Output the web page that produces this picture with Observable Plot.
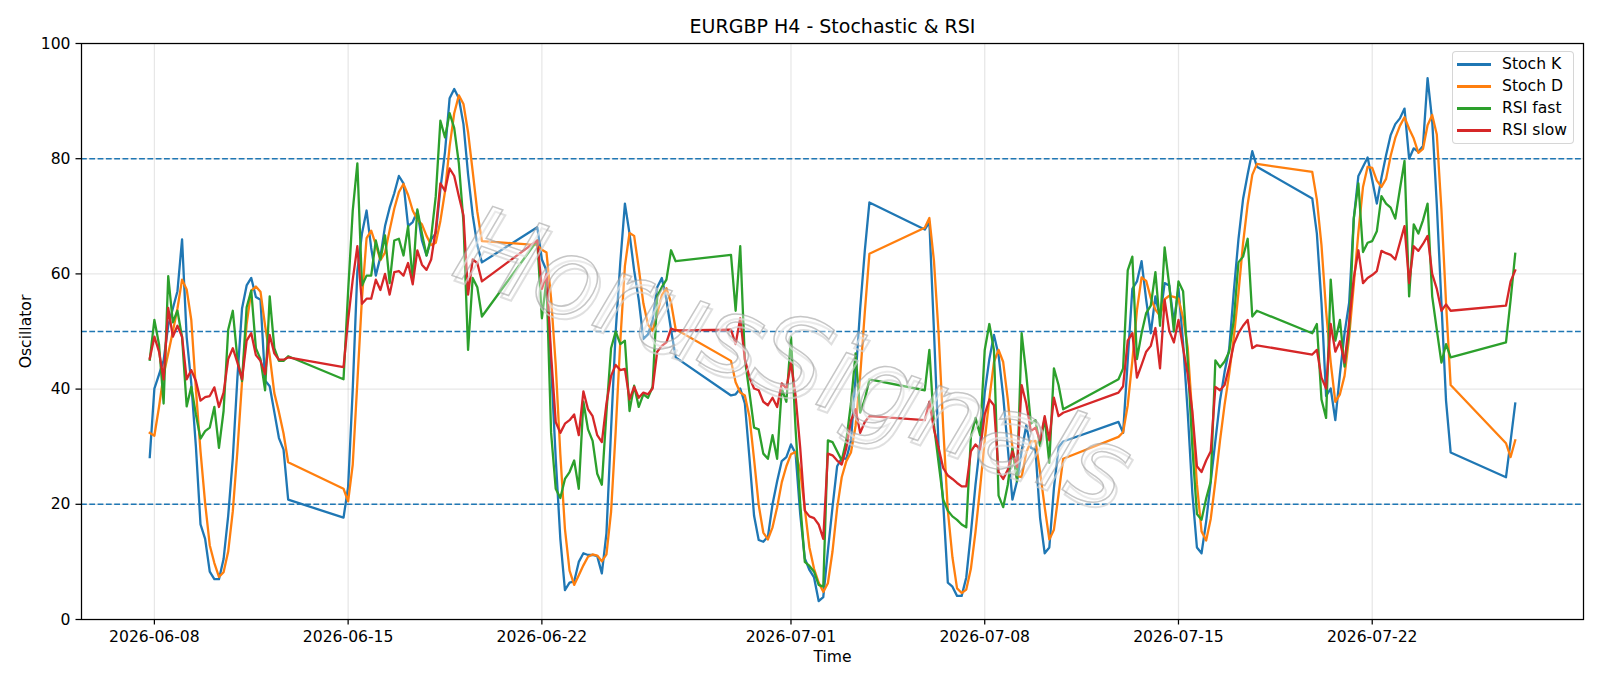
<!DOCTYPE html>
<html>
<head>
<meta charset="utf-8">
<script src="https://cdn.jsdelivr.net/npm/d3@7"></script>
<script src="https://cdn.jsdelivr.net/npm/@observablehq/plot@0.6"></script>
<style>
html,body{margin:0;padding:0;background:#fff;}
#chart{position:relative;width:1600px;height:686px;overflow:hidden;font-family:"DejaVu Sans",sans-serif;}
#legend{position:absolute;left:1452px;top:51px;width:122px;height:93px;border:1px solid rgba(204,204,204,0.8);border-radius:4px;background:rgba(255,255,255,0.8);box-sizing:border-box;}
.lrow{position:absolute;left:0;width:120px;height:22px;}
.lline{position:absolute;left:4px;width:34px;height:2.3px;top:10px;}
.ltext{position:absolute;left:49px;top:0;line-height:22px;font-size:15.6px;color:#000;white-space:nowrap;font-family:"DejaVu Sans",sans-serif;}
</style>
</head>
<body>
<div id="chart"></div>
<script>
// ---------- data ----------
const titleText = "EURGBP H4 - Stochastic & RSI";
const seriesNames = ["Stoch K", "Stoch D", "RSI fast", "RSI slow"];
const seriesColors = ["#1f77b4", "#ff7f0e", "#2ca02c", "#d62728"];
// first H4 bar of each trading week (Sunday 20:00 UTC) and number of bars in it
const weekStarts = ["2026-06-07T20:00:00Z","2026-06-14T20:00:00Z","2026-06-21T20:00:00Z","2026-06-28T20:00:00Z","2026-07-05T20:00:00Z","2026-07-12T20:00:00Z","2026-07-19T20:00:00Z","2026-07-26T20:00:00Z"];
const barsPerWeek = [31,31,31,31,31,31,31,3];
const xTickDates = ["2026-06-08","2026-06-15","2026-06-22","2026-07-01","2026-07-08","2026-07-15","2026-07-22"];
const yTicks = [0,20,40,60,80,100];
const levels = [20,50,80];

const stochK = [
28.2,40.1,42.5,45,51,54,57,66,49,41,30,16.5,14,8.3,7,7,10.5,18,28,42,54,58,59.3,56,55.5,41.5,40.5,36,31.5,29.5,20.8,
17.7,23,40,60.5,67,71,64.5,59.7,63,68.3,71.5,74,77,75.7,68.3,69,70.9,65.8,63.2,66,67,74.7,81.2,90.5,92.1,90.5,86,77.3,70.2,65,62,
68.1,62.5,60.6,44,28,14,5.1,6.4,6.6,10,11.5,11.2,11.2,11,8,15,33,50,62,72.2,67,60.6,55.5,48.7,49.5,52,57.7,59.3,55.5,50.3,45.5,
38.9,39.1,40.1,37.5,28,18,13.8,13.5,14.4,20,24,27.5,28.2,30.4,28.8,18.3,10.6,8.6,7.3,3.2,3.9,11.9,19.5,26.6,28,27.9,31,42,54,64,72.4,
67.7,69,50,30,20.2,6.4,5.7,4.1,4.1,7.3,15,23.4,30.4,39.4,45.2,49.4,45.9,38.8,29.8,20.8,24,29.2,33.7,29.8,29.5,17.6,11.5,12.5,22.8,29.9,30.9,
34.3,32.4,45,57.4,58.7,62.2,55.5,49.7,56.1,52.3,58.4,58,51.6,57.5,48,36,22,12.5,11.5,17,24,31,38,43,47,57,66,73,77.3,81.3,78.6,
73.1,67,55,38.8,40.1,34.6,42.6,49.7,55,69.6,77,78.6,80.2,76.3,72.2,76.7,80.6,84.1,86,87,88.7,80,81.8,81.2,82.2,94,86.6,72,55,38,29,
24.7,31,37.5
];
const stochD = [
32.4,31.9,36.9,42.5,46.2,50,54,59,57.3,52,40,29.2,20.2,12.9,9.8,7.4,8.2,11.8,18.8,29.3,41.3,51.3,57.1,57.8,56.9,51,45.8,39.3,36,32.3,27.3,
22.7,20.5,26.9,41.2,55.8,66.2,67.5,65.1,62.4,63.7,67.6,71.3,74.2,75.6,73.7,71,69.4,68.6,66.6,65,65.4,69.2,74.3,82.1,87.9,91,89.5,84.6,77.8,70.8,65.7,
65,64.2,63.7,55.7,44.2,28.7,15.7,8.5,6,7.7,9.4,10.9,11.3,11.1,10.1,11.3,18.7,32.7,48.3,61.4,67.1,66.6,61,54.9,51.2,50.1,53.1,56.3,57.5,55,50.4,
44.9,41.2,39.4,38.9,35.2,27.8,19.9,15.1,13.9,16,19.5,23.8,26.6,28.7,29.1,25.8,19.2,12.5,8.8,6.4,4.8,6.3,11.8,19.3,24.7,27.5,29,33.6,42.3,53.3,63.5,
68,69.7,62.2,49.7,33.4,18.9,10.8,5.4,4.6,5.2,8.8,15.2,22.9,31.1,38.3,44.7,46.8,44.7,38.2,29.8,24.9,24.7,29,30.9,31,25.6,19.5,13.9,15.6,21.7,27.9,
31.7,32.5,37.2,44.9,53.7,59.4,58.8,55.8,53.8,52.7,55.6,56.2,56,55.7,52.4,47.2,35.3,23.5,15.3,13.7,17.5,24,31,37.3,42.7,49,56.7,65.3,72.1,77.2,79.1,
77.7,72.9,65,53.6,44.6,37.8,39.1,42.3,49.1,58.1,67.2,75.1,78.6,78.4,76.2,75.1,76.5,80.5,83.6,85.7,87.2,85.2,83.5,81,81.7,85.8,87.6,84.2,71.2,55,40.7,
30.6,28.2,31.1
];
const rsiFast = [
45.1,52,47.8,37.5,59.6,51.6,53.6,49,37,40.4,35.6,31.4,32.7,33.3,36.9,29.8,36.2,50.3,53.6,45.2,41.4,54.2,57.1,47.1,45.2,39.8,56.1,47.1,44.9,44.9,45.7,
41.7,57,71,79.2,58,59.7,59.7,65.8,62.5,66.7,58.4,65.8,66.1,63.2,68.3,58.7,71.2,67,63.2,66.4,73.5,86.6,83.7,87.9,85.3,79.2,69,46.8,59.3,57.7,52.6,
65.8,52.3,59,32.4,22.7,21.1,24.4,25.6,27.6,22.7,37.8,33,31,25.3,23.4,36,47.1,50,47.8,48.4,36.2,40.6,36.9,39.1,38.5,40.4,56.1,57.7,59,64.1,62.2,
63.3,53.6,64.8,45.2,39.4,33.3,33,28.8,27.9,32,27.9,40.1,37.8,49.1,33,20.2,10,9.3,8.3,6,5.7,31.1,30.8,29.2,27.6,31.1,37.5,46.2,35.9,38.2,41.7,
39.8,46.8,33.7,27.2,20.8,18.9,17.9,17.3,16.5,16,31.7,35,32,46.8,51.3,46.8,21.5,19.5,23.4,29.8,24,49.7,42.6,34,34.6,30.1,35,27.2,43.6,40.7,36.5,
41.7,43.6,60.6,63,45.2,49.7,53.2,54.5,60.3,51,64.6,58,50,58.7,57,45,30,18.3,17.3,21,24,45,43.8,44.8,46.5,52,62,63,66.1,52.6,53.6,
49.7,51.3,38.2,35,59,48.4,52,43.9,50.5,69.6,75.7,63.8,65.4,65.7,67.4,73.5,72.2,71.5,69.6,74.7,79.6,56.1,68.6,67,69.3,72.2,56.1,50.3,44.6,47.8,45.5,
48.1,55.5,63.5
];
const rsiSlow = [
45.3,49.1,46.5,41.7,54.1,49.1,51,49.1,41.7,43.3,41.4,38,38.6,38.8,40.3,36.9,39.4,45.2,47.1,44.6,41.7,48.4,49.7,45.9,44.9,42.6,49.4,46.2,45.1,45.1,45.5,
43.8,52,59,64.8,54.8,55.7,55.7,59,57.2,60,56.4,60.3,60.5,59.7,61.9,58.2,64.1,61.6,60.7,62.5,67.7,75.7,74.4,78.3,77,73.5,70.2,56.4,62.5,61.9,58.7,
65.8,57.4,60,45.9,34.3,32.4,34,34.6,35.6,32,39.6,36.5,35.3,32,30.8,37.5,42.3,44.2,43.3,43.5,38.2,40.4,38.5,39.4,39.1,40.1,46.5,47.5,48.1,50.5,50.2,
50.3,47.8,52.3,45.2,42,40.1,39.8,37.8,37.2,38.5,36.9,41,40.1,44.6,38.8,29.8,18.9,17.9,17.6,16.5,14,28.8,28.5,27.6,26.9,29.8,34.5,36.5,32.4,34.3,35.3,
34.6,37.8,33,29.8,26.3,25,24.4,23.7,23.1,23.1,29.2,30.4,29.5,35.6,38.2,37.2,25.6,24.4,26,29.2,26.5,40.7,37.5,32.7,33.3,31.1,35.3,31.1,38.5,35.3,35.9,
39.4,40.5,48.4,49.7,42,44.2,46.5,47.5,50.6,43.6,55.5,50.1,48.1,52,47.1,42.6,36.2,26.6,25.6,27.6,29.2,40.4,39.8,40.7,43.9,47.8,49.7,51,52,47.1,47.6,
46,46.8,42,40.1,51.3,46.5,48.3,44.6,51.6,59.3,64.1,58.4,59.3,59.8,60.5,64,63.6,63.3,62.5,65.4,68.3,58.4,64.8,64,65.2,66.6,60,57.4,53.6,54.7,53.6,
54.5,58.7,60.6
];

// ---------- build table ----------
const H4 = 4 * 3600 * 1000;
const times = [];
weekStarts.forEach((s, w) => {
  const t0 = new Date(s).getTime();
  for (let i = 0; i < barsPerWeek[w]; i++) times.push(new Date(t0 + i * H4));
});
const seriesValues = [stochK, stochD, rsiFast, rsiSlow];
const tables = seriesValues.map((vals, k) => times.map((t, i) => ({t, v: vals[i], s: seriesNames[k]})));

// matplotlib-like 5% x margins
const tMin = times[0].getTime(), tMax = times[times.length - 1].getTime();
const pad = (tMax - tMin) * 0.05;
const xDomain = [new Date(tMin - pad), new Date(tMax + pad)];
const xTicks = xTickDates.map(d => new Date(d + "T00:00:00Z"));

const gridStyle = {stroke: "#b0b0b0", strokeOpacity: 0.3, strokeWidth: 1.25};

const chart = Plot.plot({
  width: 1600,
  height: 686,
  marginLeft: 81,
  marginRight: 17,
  marginTop: 43,
  marginBottom: 67,
  style: {fontFamily: "DejaVu Sans, sans-serif", fontSize: "15.6px", color: "#000", background: "#fff", overflow: "visible"},
  x: {type: "utc", domain: xDomain},
  y: {domain: [0, 100]},
  marks: [
    Plot.gridX(xTicks, gridStyle),
    Plot.gridY(yTicks, gridStyle),
    Plot.ruleY(levels, {stroke: "#1f77b4", strokeWidth: 1.56, strokeDasharray: "5.8,2.5"}),
    ...tables.map((tab, k) => Plot.line(tab, {x: "t", y: "v", stroke: seriesColors[k], strokeWidth: 2.3, strokeLinejoin: "round", strokeLinecap: "square"})),
    Plot.frame({stroke: "#000", strokeWidth: 1.25}),
    Plot.axisX(xTicks, {anchor: "bottom", tickFormat: d3.utcFormat("%Y-%m-%d"), tickSize: 5.5, tickPadding: 5.5, label: null, strokeWidth: 1.25}),
    Plot.axisY(yTicks, {anchor: "left", tickSize: 5.5, tickPadding: 5.5, label: null, strokeWidth: 1.25}),
    Plot.text([titleText], {frameAnchor: "top", dy: -16.5, fontSize: 19, lineAnchor: "middle", textAnchor: "middle"}),
    Plot.text(["Time"], {frameAnchor: "bottom", dy: 37.5, lineAnchor: "middle", textAnchor: "middle"}),
    Plot.text(["Oscillator"], {frameAnchor: "left", dx: -55.5, rotate: -90, lineAnchor: "middle", textAnchor: "middle"})
  ]
});

const host = document.getElementById("chart");
host.appendChild(chart);

// watermark (decorative text overlay)
const wm = d3.select(chart).append("g")
  .attr("transform", "translate(792,362) rotate(19.5)")
  .attr("pointer-events", "none");
const wmStyle = sel => sel
  .attr("text-anchor", "middle")
  .style("font-family", "DejaVu Sans, sans-serif")
  .style("font-style", "italic")
  .style("font-size", "108px")
  .style("letter-spacing", "0px")
  .text("HorusSignals");
wm.append("text").attr("x", 4).attr("y", 36)
  .attr("fill", "none").attr("stroke", "#d2d2d2").attr("stroke-opacity", 0.7).attr("stroke-width", 2)
  .call(wmStyle);
wm.append("text").attr("x", 0).attr("y", 32)
  .attr("fill", "#ffffff").attr("fill-opacity", 0.35)
  .attr("stroke", "#a0a0a0").attr("stroke-opacity", 0.6).attr("stroke-width", 1.5)
  .call(wmStyle);

// legend
const legend = document.createElement("div");
legend.id = "legend";
seriesNames.forEach((name, k) => {
  const row = document.createElement("div");
  row.className = "lrow";
  row.style.top = (1.3 + 22 * k) + "px";
  const ln = document.createElement("div");
  ln.className = "lline";
  ln.style.background = seriesColors[k];
  const tx = document.createElement("div");
  tx.className = "ltext";
  tx.textContent = name;
  row.appendChild(ln);
  row.appendChild(tx);
  legend.appendChild(row);
});
host.appendChild(legend);
</script>
</body>
</html>
